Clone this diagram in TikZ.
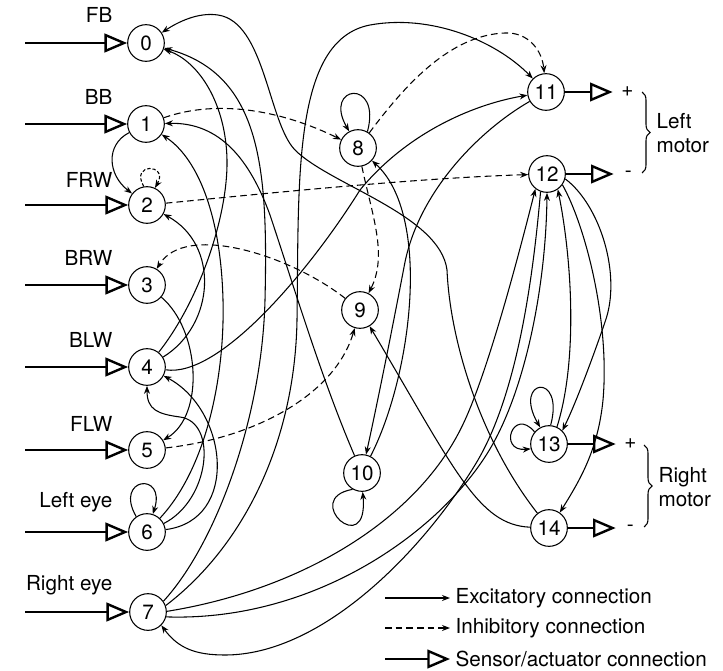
\documentclass[tikz,border=0pt]{standalone}
\usepackage{fontspec}
\setmainfont{TeX Gyre Heros}
\usetikzlibrary{arrows.meta, decorations.pathreplacing}
\tikzstyle{neuron} = [circle, draw, line width=0.8pt, minimum size=27.5pt, inner sep=0pt, font=\fontsize{15.5}{18}\selectfont]
\tikzstyle{exc} = [line width=0.8pt, -{Stealth[length=6pt, width=4.5pt]}]
\tikzstyle{inh} = [exc, dash pattern=on 5pt off 3pt]
\tikzstyle{sensor} = [line width=2.2pt, -{Triangle[open, length=17pt, width=14pt, line width=1.8pt]}]
\tikzstyle{lbl} = [font=\fontsize{15.5}{18}\selectfont, inner sep=1pt]

\begin{document}
\begin{tikzpicture}[x=0.75pt, y=-0.75pt]
\useasboundingbox (0,0) rectangle (723,670);

\foreach \n/\x/\y in {0/146/43, 1/146/124, 2/147/205, 3/147/285, 4/147/367, 5/147/450, 6/147/532, 7/148/612, 8/358/148, 9/360/310, 10/362/473, 11/546/92, 12/547/174, 13/549/444, 14/549/528}
	\node[neuron] (n\n) at (\x,\y) {\n};

\foreach \n/\t/\b in {0/FB/23, 1/BB/105, 2/FRW/187, 3/BRW/265, 4/BLW/347, 5/FLW/431, 6/Left eye/507, 7/Right eye/590} {
	\coordinate (s\n) at (25,0 |- n\n);
	\draw[sensor] (s\n) -- (n\n);
	\node[lbl, anchor=base east] (l\n) at (114,\b) {\t};
}

\foreach \n/\s in {11/+, 12/-, 13/+, 14/-} {
	\coordinate (o\n) at ([xshift=50pt]n\n.center);
	\draw[sensor] (n\n) -- (o\n);
	\node[lbl] (m\n) at ([xshift=61pt]n\n.center) {\s};
}
\draw[decorate, decoration={brace, amplitude=6pt}, line width=0.8pt] (642,92) -- (642,173);
\draw[decorate, decoration={brace, amplitude=6pt}, line width=0.8pt] (644,445) -- (644,527);
\node[lbl, anchor=west, align=left] (lm) at (655,133) {Left\\motor};
\node[lbl, anchor=west, align=left] (rm) at (657,487) {Right\\motor};

\draw[exc] (n14) .. controls (480,440) and (450,340) .. (447,270) .. controls (440,215) and (330,185) .. (295,150) .. controls (268,122) and (265,22) .. (218,15) .. controls (198,12) and (178,22) .. (n0);
\draw[exc] (n7.35) .. controls (215,545) and (262,420) .. (265,300) .. controls (268,170) and (262,75) .. (n0);
\draw[exc] (n4) .. controls (200,300) and (228,215) .. (227,160) .. controls (226,105) and (200,62) .. (n0);
\draw[exc] (n10) .. controls (322,380) and (295,290) .. (270,215) .. controls (250,160) and (220,122) .. (n1);
\draw[exc] (n6) .. controls (205,470) and (225,380) .. (223,300) .. controls (221,220) and (200,160) .. (n1);
\draw[exc] (n1) .. controls (105,145) and (108,175) .. (n2);
\draw[exc] (n4) .. controls (215,325) and (220,245) .. (n2);
\draw[exc] (n3) .. controls (200,330) and (205,415) .. (n5);
\draw[exc] (n6) .. controls (240,520) and (228,410) .. (n4);
\draw[exc] (n6) .. controls (210,500) and (218,422) .. (180,417) .. controls (158,414) and (147,410) .. (n4);
\draw[exc] (n4) .. controls (220,378) and (310,270) .. (360,190) .. controls (405,135) and (470,105) .. (n11);
\draw[exc] (n7.20) .. controls (245,545) and (295,440) .. (297,320) .. controls (299,180) and (292,40) .. (370,25) .. controls (430,14) and (495,40) .. (n11);
\draw[exc] (n11) .. controls (480,130) and (420,190) .. (405,262) .. controls (392,330) and (378,400) .. (n10);
\draw[exc] (n10) .. controls (412,375) and (432,215) .. (n8);
\draw[exc] (n14) .. controls (478,525) and (455,470) .. (n9);
\draw[exc] (n7.2) .. controls (300,590) and (420,520) .. (465,420) .. controls (490,365) and (520,250) .. (n12.232);
\draw[exc] (n7.-15) .. controls (320,622) and (450,525) .. (495,440) .. controls (528,378) and (546,280) .. (n12.270);
\draw[exc] (n12.250) .. controls (532,290) and (515,400) .. (475,465) .. controls (420,555) and (320,655) .. (225,655) .. controls (195,655) and (178,648) .. (n7.-45);
\draw[exc] (n13.65) .. controls (578,360) and (572,260) .. (n12.305);
\draw[exc] (n12.345) .. controls (600,205) and (622,275) .. (605,322) .. controls (592,360) and (575,405) .. (n13.45);
\draw[exc] (n12.325) .. controls (585,225) and (610,320) .. (603,400) .. controls (598,450) and (580,480) .. (n14.55);
\draw[exc] (n6.125) .. controls +(120:34pt) and +(72:34pt) .. (n6.72);
\draw[exc] (n8.60) .. controls +(75:42pt) and +(120:40pt) .. (n8.118);
\draw[exc] (n10.240) .. controls +(190:40pt) and +(275:52pt) .. (n10.272);
\draw[exc] (n13.85) .. controls +(75:42pt) and +(120:42pt) .. (n13.118);
\draw[exc] (n13.140) .. controls +(130:25pt) and +(185:25pt) .. (n13.195);

\draw[inh] (n1) .. controls (220,98) and (285,112) .. (n8);
\draw[inh] (n2) .. controls (280,192) and (420,178) .. (n12);
\draw[inh] (n9) .. controls (290,255) and (185,222) .. (n3);
\draw[inh] (n5) .. controls (255,438) and (335,395) .. (n9);
\draw[inh] (n8) .. controls (405,85) and (450,35) .. (505,33) .. controls (528,32) and (542,50) .. (n11);
\draw[inh] (n8) .. controls (372,215) and (388,255) .. (n9);
\draw[inh, dash pattern=on 2.5pt off 1.5pt] (n2.100) .. controls +(120:21pt) and +(60:21pt) .. (n2.65);

\node[lbl, anchor=west, inner sep=4pt] (ex) at (450,598) {Excitatory connection};
\node[lbl, anchor=west, inner sep=4pt] (ih) at (450,628) {Inhibitory connection};
\node[lbl, anchor=west, inner sep=4pt] (sa) at (450,659) {Sensor/actuator connection};
\coordinate (kex) at (385,0 |- ex.west);
\coordinate (kih) at (385,0 |- ih.west);
\coordinate (ksa) at (385,0 |- sa.west);
\draw[exc] (kex) -- (ex.west);
\draw[inh] (kih) -- (ih.west);
\draw[sensor] (ksa) -- (sa.west);
\end{tikzpicture}
\end{document}
